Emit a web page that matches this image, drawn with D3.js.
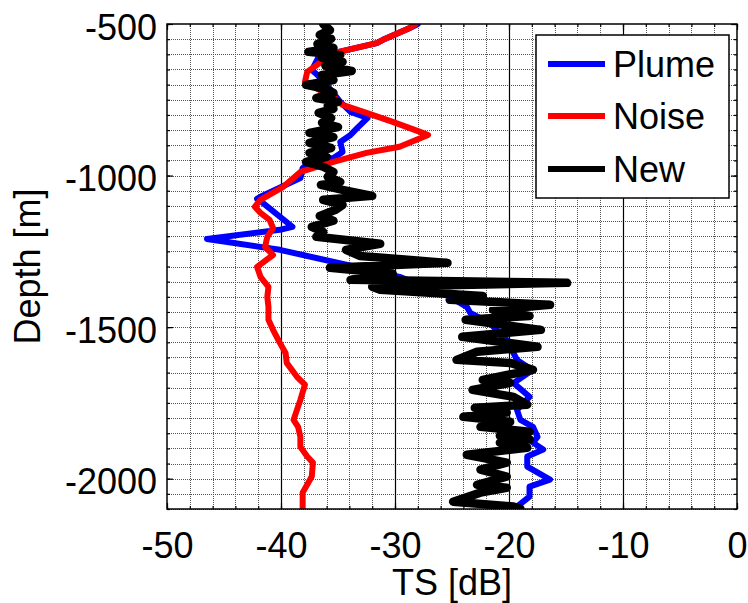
<!DOCTYPE html>
<html>
<head>
<meta charset="utf-8">
<script src="https://cdn.jsdelivr.net/npm/d3@7/dist/d3.min.js"></script>
<style>
  html, body { margin: 0; padding: 0; background: #fff; }
  svg { display: block; font-family: "Liberation Sans", Arial, Helvetica, sans-serif; }
</style>
</head>
<body>
<svg id="chart" width="748" height="603"></svg>
<script>
// ---------------- data ----------------
const seriesNames = ["Plume", "Noise", "New"];
const seriesColors = ["#0000ff", "#ff0000", "#000000"];

const plumeDepth = [-500, -513, -553, -563, -596, -602, -652, -668, -701, -757, -790, -810, -843, -866, -889, -922, -942, -948, -975, -1008, -1070, -1077, -1090, -1169, -1179, -1209, -1245, -1304, -1334, -1400, -1433, -1453, -1486, -1509, -1532, -1542, -1608, -1631, -1641, -1684, -1730, -1773, -1806, -1829, -1862, -1881, -1904, -1927, -1960, -2003, -2026, -2059, -2092, -2099];
const plumeTS = [-28.0, -28.7, -31.1, -31.6, -35.4, -36.6, -37.3, -36.8, -36.0, -34.8, -33.9, -32.4, -33.3, -33.9, -34.8, -34.6, -35.4, -37.2, -38.1, -38.3, -41.8, -42.1, -41.6, -39.0, -40.1, -46.5, -40.1, -33.1, -29.6, -25.2, -23.7, -23.4, -21.7, -21.1, -20.6, -20.2, -19.3, -18.4, -17.9, -19.6, -18.2, -19.3, -19.0, -17.9, -17.5, -17.9, -17.0, -18.4, -18.4, -16.4, -18.2, -18.2, -19.3, -19.5];

const noiseDepth = [-500, -513, -553, -563, -596, -658, -691, -718, -741, -767, -793, -823, -856, -866, -905, -925, -955, -988, -1037, -1080, -1103, -1123, -1146, -1173, -1202, -1235, -1262, -1301, -1334, -1367, -1400, -1433, -1476, -1509, -1552, -1585, -1618, -1664, -1690, -1740, -1806, -1829, -1862, -1895, -1927, -1947, -1993, -2046, -2099];
const noiseTS = [-28.2, -28.7, -31.1, -31.6, -35.4, -37.7, -37.9, -36.6, -35.4, -34.6, -32.5, -30.2, -27.8, -27.1, -29.6, -32.5, -35.4, -38.3, -39.8, -41.8, -42.3, -41.8, -41.0, -40.7, -41.2, -41.4, -40.7, -42.1, -41.8, -41.1, -41.2, -41.1, -41.1, -40.7, -40.1, -39.6, -39.5, -38.6, -37.9, -38.3, -38.9, -38.5, -38.3, -38.3, -37.7, -37.2, -37.3, -38.1, -38.1];

const newDepth = [-500, -520, -536, -549, -566, -579, -592, -602, -612, -625, -638, -655, -668, -685, -701, -714, -727, -744, -757, -770, -780, -793, -810, -826, -840, -859, -873, -892, -909, -925, -938, -955, -971, -988, -1004, -1021, -1031, -1047, -1067, -1080, -1097, -1113, -1133, -1149, -1169, -1186, -1202, -1225, -1245, -1265, -1288, -1304, -1324, -1344, -1354, -1367, -1377, -1397, -1410, -1426, -1443, -1463, -1476, -1509, -1532, -1565, -1581, -1608, -1618, -1641, -1674, -1684, -1707, -1730, -1756, -1766, -1782, -1796, -1812, -1829, -1845, -1858, -1871, -1881, -1898, -1921, -1947, -1970, -1993, -2020, -2030, -2046, -2076, -2092, -2099];
const newTS = [-36.3, -35.7, -36.6, -35.6, -36.8, -35.4, -37.6, -34.8, -36.4, -34.6, -36.1, -33.8, -36.4, -35.4, -37.8, -36.1, -35.4, -36.9, -35.0, -35.9, -35.4, -36.7, -35.6, -36.4, -35.0, -37.5, -35.4, -37.5, -35.6, -37.5, -36.0, -37.8, -36.3, -35.4, -35.9, -34.8, -36.5, -34.6, -32.0, -36.3, -34.6, -35.2, -36.6, -35.4, -37.3, -36.3, -36.9, -31.3, -34.3, -33.1, -25.4, -35.7, -30.2, -33.9, -14.9, -32.0, -31.3, -22.3, -25.2, -16.4, -21.4, -18.2, -23.8, -17.2, -24.1, -17.5, -22.8, -24.6, -19.9, -17.9, -22.3, -19.9, -23.2, -19.6, -18.4, -23.0, -20.2, -24.0, -19.9, -22.5, -18.2, -20.8, -18.2, -20.8, -18.4, -23.7, -20.2, -22.5, -20.2, -22.8, -20.2, -22.5, -24.9, -19.6, -19.0];

const xTicks = [-50, -40, -30, -20, -10, 0];
const yTicks = [-500, -1000, -1500, -2000];
const xLabel = "TS [dB]";
const yLabel = "Depth [m]";

// ---------------- layout ----------------
const svg = d3.select("#chart");
const L = 167, R = 737, T = 24, B = 509;
const x = d3.scaleLinear().domain([-50, 0]).range([L, R]);
const y = d3.scaleLinear().domain([-500, -2100]).range([T, B]);
const px = v => Math.round(v) + 0.5;

const xMinor = d3.range(-50, 0.001, 2);
const yMinor = d3.range(-500, -2100.001, -50);

// grid
const grid = svg.append("g");
grid.selectAll("line.vm").data(xMinor.filter(v => v % 10 !== 0)).join("line")
  .attr("x1", d => px(x(d))).attr("x2", d => px(x(d))).attr("y1", T).attr("y2", B)
  .attr("stroke", "#555").attr("stroke-width", 1).attr("stroke-dasharray", "1,1");
grid.selectAll("line.hm").data(yMinor.slice(1)).join("line")
  .attr("x1", L).attr("x2", R).attr("y1", d => px(y(d))).attr("y2", d => px(y(d)))
  .attr("stroke", "#555").attr("stroke-width", 1).attr("stroke-dasharray", "1,1");
grid.selectAll("line.vM").data(xTicks.filter(v => v > -50 && v < 0)).join("line")
  .attr("x1", d => px(x(d))).attr("x2", d => px(x(d))).attr("y1", T).attr("y2", B)
  .attr("stroke", "#000").attr("stroke-width", 1.2);

// axes (inward ticks)
const fs = 36;
const fmt = d => String(d);
const axB = svg.append("g").attr("transform", `translate(0,${B})`)
  .call(d3.axisBottom(x).tickValues(xTicks).tickSize(-6).tickPadding(23).tickFormat(fmt));
const axL = svg.append("g").attr("transform", `translate(${L},0)`)
  .call(d3.axisLeft(y).tickValues(yTicks).tickSize(-6).tickPadding(10).tickFormat(fmt));
svg.append("g").attr("transform", `translate(0,${T})`)
  .call(d3.axisTop(x).tickValues(xTicks).tickSize(-6).tickFormat(""));
svg.append("g").attr("transform", `translate(${R},0)`)
  .call(d3.axisRight(y).tickValues(yTicks).tickSize(-6).tickFormat(""));
// minor ticks
svg.append("g").attr("transform", `translate(0,${B})`).call(d3.axisBottom(x).tickValues(xMinor).tickSize(-3).tickFormat(""));
svg.append("g").attr("transform", `translate(0,${T})`).call(d3.axisTop(x).tickValues(xMinor).tickSize(-3).tickFormat(""));
svg.append("g").attr("transform", `translate(${L},0)`).call(d3.axisLeft(y).tickValues(yMinor).tickSize(-3).tickFormat(""));
svg.append("g").attr("transform", `translate(${R},0)`).call(d3.axisRight(y).tickValues(yMinor).tickSize(-3).tickFormat(""));

svg.selectAll(".domain").remove();
svg.selectAll(".tick line").attr("stroke", "#000").attr("stroke-width", 1.2);
axB.selectAll("text").attr("font-size", fs).attr("fill", "#000").attr("font-family", "Liberation Sans, Arial, sans-serif");
axL.selectAll("text").attr("font-size", fs).attr("fill", "#000").attr("dy", "0.42em").attr("font-family", "Liberation Sans, Arial, sans-serif");

// series
const line = d3.line().x(d => x(d.ts)).y(d => y(d.depth));
const seriesData = [
  plumeDepth.map((d, i) => ({ depth: d, ts: plumeTS[i] })),
  noiseDepth.map((d, i) => ({ depth: d, ts: noiseTS[i] })),
  newDepth.map((d, i) => ({ depth: d, ts: newTS[i] }))
];
const widths = [6, 6, 8.5];
const plotG = svg.append("g");
plotG.append("clipPath").attr("id", "clip").append("rect").attr("x", L).attr("y", T).attr("width", R - L).attr("height", B - T);
seriesData.forEach((s, i) => {
  plotG.append("path").datum(s).attr("d", line)
    .attr("fill", "none").attr("stroke", seriesColors[i]).attr("stroke-width", widths[i])
    .attr("stroke-linejoin", "round").attr("stroke-linecap", "round")
    .attr("clip-path", "url(#clip)");
});

// frame
svg.append("rect").attr("x", L).attr("y", T).attr("width", R - L).attr("height", B - T)
  .attr("fill", "none").attr("stroke", "#000").attr("stroke-width", 1.5);

// axis labels
svg.append("text").attr("x", (L + R) / 2).attr("y", 595).attr("text-anchor", "middle")
  .attr("font-size", fs).attr("fill", "#000").text(xLabel);
svg.append("text").attr("transform", `translate(40,${(T + B) / 2}) rotate(-90)`).attr("text-anchor", "middle")
  .attr("font-size", fs).attr("fill", "#000").text(yLabel);

// legend
const lg = svg.append("g");
lg.append("rect").attr("x", 536).attr("y", 35).attr("width", 193).attr("height", 163)
  .attr("fill", "#fff").attr("stroke", "#000").attr("stroke-width", 1.5);
const legY = [64, 116, 169];
seriesNames.forEach((n, i) => {
  lg.append("line").attr("x1", 548).attr("x2", 605).attr("y1", legY[i]).attr("y2", legY[i])
    .attr("stroke", seriesColors[i]).attr("stroke-width", 6);
  lg.append("text").attr("x", 613).attr("y", legY[i] + 12.5).attr("font-size", fs).attr("fill", "#000").text(n);
});
</script>
</body>
</html>
